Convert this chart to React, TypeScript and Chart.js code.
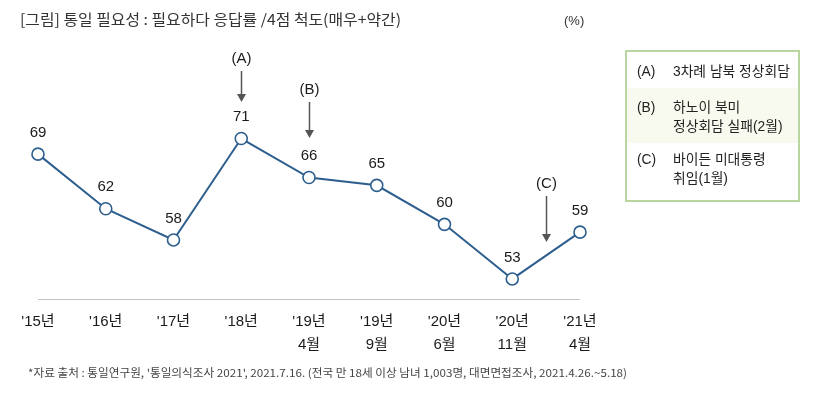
import React, { useEffect, useRef } from "react";
import { Chart, registerables } from "chart.js";

Chart.register(...registerables);

const categoriesLine1 = ["'15년", "'16년", "'17년", "'18년", "'19년", "'19년", "'20년", "'20년", "'21년"];
const categoriesLine2 = ["", "", "", "", "4월", "9월", "6월", "11월", "4월"];
const values = [69, 62, 58, 71, 66, 65, 60, 53, 59];

const annotationLabels = ["(A)", "(B)", "(C)"];
const annotationPositions = [3, 4, 7.5];

const legendKeys = ["(A)", "(B)", "(C)"];
const legendTexts = [["3차례 남북 정상회담"], ["하노이 북미", "정상회담 실패(2월)"], ["바이든 미대통령", "취임(1월)"]];

const titleText = "[그림] 통일 필요성 : 필요하다 응답률 /4점 척도(매우+약간)";
const unitText = "(%)";
const footnoteText = "*자료 출처 : 통일연구원, '통일의식조사 2021', 2021.7.16. (전국 만 18세 이상 남녀 1,003명, 대면면접조사, 2021.4.26.~5.18)";

const KR = '"Noto Sans CJK KR", "Noto Sans", sans-serif';
const MIX = '"Liberation Sans", "Noto Sans CJK KR", sans-serif';
const LINE = "#2d5e8e";

function fitText(ctx: CanvasRenderingContext2D, text: string, x: number, y: number, width: number) {
  const w = ctx.measureText(text).width;
  const s = width / w;
  ctx.save();
  ctx.translate(x, y);
  ctx.scale(s, 1);
  ctx.fillText(text, 0, 0);
  ctx.restore();
}

const overlayPlugin = {
  id: "overlay",
  beforeDatasetsDraw(chart: any) {
    const ctx = chart.ctx as CanvasRenderingContext2D;
    const xs = chart.scales.x;
    ctx.save();
    ctx.strokeStyle = "#c4c4c4";
    ctx.lineWidth = 1;
    ctx.beginPath();
    ctx.moveTo(xs.getPixelForValue(0), 299.5);
    ctx.lineTo(xs.getPixelForValue(values.length - 1), 299.5);
    ctx.stroke();
    ctx.restore();
  },
  afterDatasetsDraw(chart: any) {
    const ctx = chart.ctx as CanvasRenderingContext2D;
    const xs = chart.scales.x;
    const ys = chart.scales.y;
    const px = (v: number) => {
      const i = Math.floor(v);
      const f = v - i;
      if (f === 0) return xs.getPixelForValue(i);
      return xs.getPixelForValue(i) * (1 - f) + xs.getPixelForValue(i + 1) * f;
    };
    ctx.save();
    // title
    ctx.fillStyle = "#333";
    ctx.textBaseline = "middle";
    ctx.textAlign = "left";
    ctx.font = `15px ${KR}`;
    fitText(ctx, titleText, 20, 19, 381);
    ctx.font = `13px ${MIX}`;
    ctx.fillText(unitText, 564, 21);

    // data labels
    ctx.fillStyle = "#1a1a1a";
    ctx.textAlign = "center";
    ctx.font = `15px ${MIX}`;
    values.forEach((v, i) => {
      ctx.fillText(String(v), xs.getPixelForValue(i), ys.getPixelForValue(v) - 21.5);
    });

    // x labels
    ctx.font = `15px ${MIX}`;
    ctx.fillStyle = "#1a1a1a";
    categoriesLine1.forEach((c, i) => {
      const x = xs.getPixelForValue(i);
      ctx.fillText(c, x, 322);
      if (categoriesLine2[i]) ctx.fillText(categoriesLine2[i], x, 345);
    });

    // annotations
    const annY = [[59, 71, 102], [90, 102, 138], [184, 196, 242]];
    annotationLabels.forEach((lab, k) => {
      const x = Math.round(px(annotationPositions[k])) + 0.5;
      const [ty, y0, y1] = annY[k];
      ctx.fillStyle = "#1a1a1a";
      ctx.font = `15px ${MIX}`;
      ctx.fillText(lab, x, ty);
      ctx.strokeStyle = "#555";
      ctx.lineWidth = 1.5;
      ctx.beginPath();
      ctx.moveTo(x, y0);
      ctx.lineTo(x, y1 - 7);
      ctx.stroke();
      ctx.fillStyle = "#555";
      ctx.beginPath();
      ctx.moveTo(x - 4.5, y1 - 8);
      ctx.lineTo(x + 4.5, y1 - 8);
      ctx.lineTo(x, y1);
      ctx.closePath();
      ctx.fill();
    });

    // legend box
    ctx.fillStyle = "#f8faef";
    ctx.fillRect(626, 88, 173, 55);
    ctx.strokeStyle = "#b9d5a0";
    ctx.lineWidth = 2;
    ctx.strokeRect(626, 51, 173, 150);
    ctx.fillStyle = "#222";
    ctx.textAlign = "left";
    ctx.font = `13.8px ${MIX}`;
    const rowY = [72, 108, 160];
    legendKeys.forEach((k, i) => {
      ctx.fillText(k, 637, rowY[i]);
      legendTexts[i].forEach((t, j) => ctx.fillText(t, 673, rowY[i] + j * 19));
    });

    // footnote
    ctx.fillStyle = "#444";
    ctx.font = `11px ${KR}`;
    fitText(ctx, footnoteText, 28, 373, 599);
    ctx.restore();
  },
};

export default function App() {
  const ref = useRef<HTMLCanvasElement>(null);
  useEffect(() => {
    if (!ref.current) return;
    const chart = new Chart(ref.current, {
      type: "line",
      data: {
        labels: categoriesLine1.map((c, i) => c + categoriesLine2[i]),
        datasets: [
          {
            data: values,
            borderColor: LINE,
            borderWidth: 2,
            pointRadius: 6,
            pointHoverRadius: 6,
            pointBackgroundColor: "#fff",
            pointBorderColor: LINE,
            pointBorderWidth: 1.6,
            tension: 0,
            clip: false as any,
          },
        ],
      },
      options: {
        responsive: false,
        animation: false,
        devicePixelRatio: 1,
        layout: { padding: { left: 38, right: 236, top: 105, bottom: 99 } },
        plugins: { legend: { display: false }, tooltip: { enabled: false }, title: { display: false } },
        scales: {
          x: { display: false, offset: false },
          y: { display: false, min: 50.3, max: 75.3 },
        },
      },
      plugins: [overlayPlugin],
    });
    return () => chart.destroy();
  }, []);
  return (
    <div style={{ position: "fixed", left: 0, top: 0, width: 816, height: 399, background: "#fff" }}>
      <canvas ref={ref} width={816} height={399} style={{ width: 816, height: 399 }} />
    </div>
  );
}
